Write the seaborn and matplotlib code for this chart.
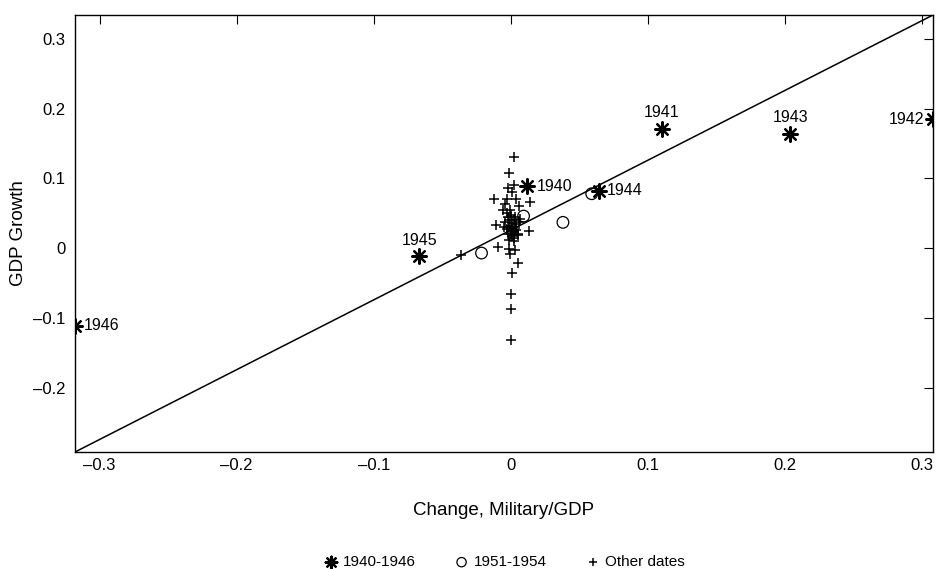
import matplotlib
matplotlib.use("Agg")
import matplotlib.pyplot as plt
import numpy as np
import pandas as pd
import seaborn as sns

# war years, 1940-1946
war_years = ["1940", "1941", "1942", "1943", "1944", "1945", "1946"]
war_x = [0.0115, 0.110, 0.308, 0.204, 0.064, -0.0668, -0.318]
war_y = [0.089, 0.171, 0.185, 0.164, 0.082, -0.0115, -0.111]

# Korean war years, 1951-1954
korea_x = [-0.0214, 0.0093, 0.038, 0.059]
korea_y = [-0.007, 0.046, 0.037, 0.078]

# other dates
other_x = [0.0022, -0.0017, 0.002, -0.002, 0.0007, -0.0124, -0.0026, 0.0034, 0.0139,
           -0.0044, 0.006, -0.006, -0.0007, -0.0105, 0.0069, 0.0135, 0.005, 0.0024,
           -0.0092, -0.0012, 0.003, -0.0007, 0.005, 0.0005, 0.0, 0.0, 0.0, -0.036,
           0.0, -0.002, 0.002, -0.004, 0.001, 0.004, -0.001, 0.003, -0.003, 0.0,
           0.002, -0.002, 0.005, 0.001, -0.005, 0.006, 0.0, -0.001, 0.003, 0.001,
           -0.003, 0.004, 0.0, 0.002, -0.001]
other_y = [0.130, 0.108, 0.090, 0.086, 0.080, 0.071, 0.071, 0.071, 0.066,
           0.063, 0.061, 0.055, 0.054, 0.033, 0.042, 0.025, 0.020, 0.0105,
           0.0024, -0.001, -0.003, -0.0086, -0.0206, -0.036, -0.065, -0.0876, -0.132, -0.010,
           0.048, 0.044, 0.041, 0.038, 0.036, 0.034, 0.031, 0.029, 0.027, 0.025,
           0.023, 0.021, 0.019, 0.017, 0.030, 0.038, 0.032, 0.040, 0.045, 0.028,
           0.050, 0.026, 0.020, 0.014, 0.012]

# fitted line y = a + b * x
fit_intercept = 0.026
fit_slope = 1.0

x_ticks = [-0.3, -0.2, -0.1, 0, 0.1, 0.2, 0.3]
y_ticks = [-0.2, -0.1, 0, 0.1, 0.2, 0.3]


def tick_label(v: float) -> str:
    if v == 0:
        return "0"
    return f"{v:.1f}".replace("-", "\u2013")


sns.set_theme(style="white")
plt.rcParams["font.family"] = ["Liberation Sans", "DejaVu Sans"]
plt.rcParams["text.color"] = "black"
plt.rcParams["axes.labelcolor"] = "black"

fig, ax = plt.subplots(figsize=(9.36, 5.69), dpi=100)
fig.subplots_adjust(left=0.0801, right=0.9968, top=0.9736, bottom=0.2056)

war = pd.DataFrame({"x": war_x, "y": war_y, "year": war_years})
korea = pd.DataFrame({"x": korea_x, "y": korea_y})
other = pd.DataFrame({"x": other_x, "y": other_y})

x_lo = min(war_x)
x_hi = max(war_x)
line = pd.DataFrame({"x": [x_lo, x_hi]})
line["y"] = fit_intercept + fit_slope * line["x"]
sns.lineplot(data=line, x="x", y="y", color="black", linewidth=1.1, ax=ax)

sns.scatterplot(data=other, x="x", y="y", marker="+", s=60, color="black",
                linewidth=1.1, ax=ax, label="Other dates", zorder=3)
sns.scatterplot(data=korea, x="x", y="y", marker="o", s=70, facecolor="none",
                edgecolor="black", linewidth=0.9, ax=ax, label="1951-1954", zorder=3)
sns.scatterplot(data=war, x="x", y="y", marker=(8, 2, 0), s=110, color="black",
                linewidth=1.6, ax=ax, label="1940-1946", zorder=4)

# year annotations
offsets = {
    "1940": ((7, 0), "left", "center"),
    "1941": ((0, 6), "center", "bottom"),
    "1942": ((-6, 0), "right", "center"),
    "1943": ((0, 6), "center", "bottom"),
    "1944": ((6, 0), "left", "center"),
    "1945": ((0, 6), "center", "bottom"),
    "1946": ((6, 0), "left", "center"),
}
for _, row in war.iterrows():
    off, ha, va = offsets[row["year"]]
    ax.annotate(row["year"], (row["x"], row["y"]), xytext=off,
                textcoords="offset points", ha=ha, va=va, fontsize=11.5, color="black")

ax.set_xlim(x_lo, x_hi)
ax.set_ylim(fit_intercept + fit_slope * x_lo, fit_intercept + fit_slope * x_hi)
ax.set_xticks(x_ticks)
ax.set_yticks(y_ticks)
ax.set_xticklabels([tick_label(v) for v in x_ticks])
ax.set_yticklabels([tick_label(v) for v in y_ticks])
ax.tick_params(direction="in", length=6.5, width=0.8, top=True, right=True,
               labelsize=12, colors="black")
ax.tick_params(axis="x", pad=4)
ax.tick_params(axis="y", pad=7)
for spine in ax.spines.values():
    spine.set_color("black")
    spine.set_linewidth(1.0)

ax.set_xlabel("Change, Military/GDP", fontsize=13.5, va="center")
ax.set_ylabel("GDP Growth", fontsize=13.5, va="center")
ax.xaxis.set_label_coords(0.5, -0.133)
ax.yaxis.set_label_coords(-0.066, 0.5)

handles, labels = ax.get_legend_handles_labels()
order = [labels.index(k) for k in ["1940-1946", "1951-1954", "Other dates"]]
ax.get_legend().remove()
fig.legend([handles[i] for i in order], [labels[i] for i in order],
           loc="center", bbox_to_anchor=(0.539, 0.012), ncol=3, frameon=False,
           fontsize=11, handlelength=0.8, handletextpad=0.4, columnspacing=2.6,
           markerscale=0.8)

fig.savefig("out.png", dpi=100)
